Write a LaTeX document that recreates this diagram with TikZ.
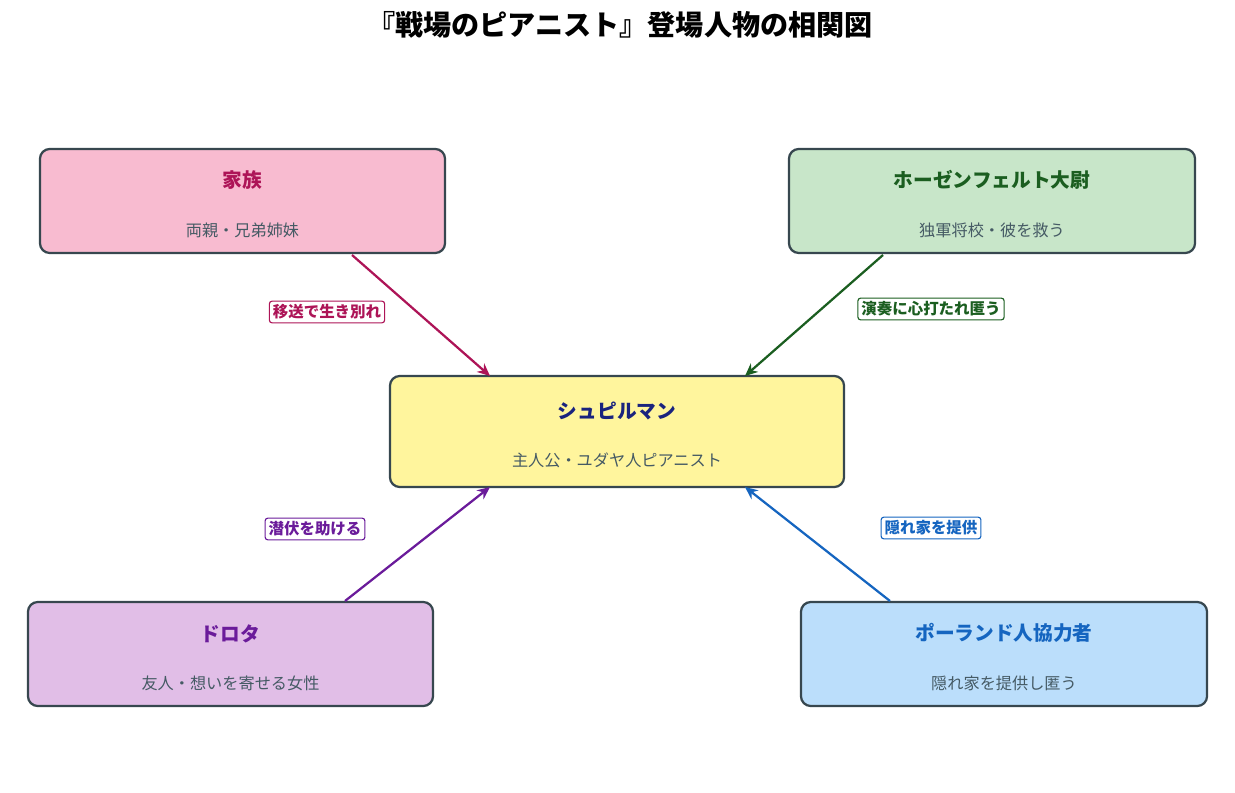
\documentclass[tikz,border=0pt]{standalone}
\usepackage{fontspec}
\setmainfont{Noto Sans CJK JP}
\usetikzlibrary{arrows.meta}
\definecolor{bd}{HTML}{37474F}
\definecolor{sub}{HTML}{455A64}
\begin{document}
\begin{tikzpicture}[x=0.025cm,y=-0.025cm,
 box/.style={draw=bd,line width=1.6pt,rounded corners=7pt,inner sep=0pt},
 ttl/.style={font=\fontsize{14}{16}\selectfont\bfseries},
 sb/.style={font=\fontsize{11.5}{13}\selectfont,text=sub},
 lab/.style={draw=#1,text=#1,fill=white,line width=0.8pt,rounded corners=2pt,inner sep=2.5pt,font=\fontsize{11}{12}\selectfont\bfseries},
 arr/.style={draw=#1,line width=1.6pt,-{Stealth[length=9pt,width=8pt]}}]
\useasboundingbox (0,0) rectangle (1235,793);
\node[font=\fontsize{20}{22}\selectfont\bfseries] (t) at (620,25) {『戦場のピアニスト』登場人物の相関図};
% boxes
\node[box,fill=pink!60!magenta!30,fill={rgb,255:red,248;green,187;blue,208},minimum width=405\pgflinewidth*0+10.125cm,minimum height=2.6cm] (fam) at (242.5,201) {};
\node[box,fill={rgb,255:red,200;green,230;blue,201},minimum width=10.15cm,minimum height=2.6cm] (hos) at (992,201) {};
\node[box,fill={rgb,255:red,255;green,245;blue,157},minimum width=11.35cm,minimum height=2.775cm] (szp) at (617,431.5) {};
\node[box,fill={rgb,255:red,225;green,190;blue,231},minimum width=10.125cm,minimum height=2.6cm] (dor) at (230.5,654) {};
\node[box,fill={rgb,255:red,187;green,222;blue,251},minimum width=10.15cm,minimum height=2.6cm] (pol) at (1004,654) {};
% texts
\node[ttl,text={rgb,255:red,173;green,20;blue,87}] (famt) at (242.5,180) {家族};
\node[sb] (fams) at (242.5,230) {両親・兄弟姉妹};
\node[ttl,text={rgb,255:red,27;green,94;blue,32}] (host) at (992,180) {ホーゼンフェルト大尉};
\node[sb] (hoss) at (992,230) {独軍将校・彼を救う};
\node[ttl,text={rgb,255:red,26;green,35;blue,126}] (szpt) at (617,411) {シュピルマン};
\node[sb] (szps) at (617,460) {主人公・ユダヤ人ピアニスト};
\node[ttl,text={rgb,255:red,106;green,27;blue,154}] (dort) at (230.5,634) {ドロタ};
\node[sb] (dors) at (230.5,683) {友人・想いを寄せる女性};
\node[ttl,text={rgb,255:red,21;green,101;blue,192}] (polt) at (1004,633) {ポーランド人協力者};
\node[sb] (pols) at (1004,683) {隠れ家を提供し匿う};
% connectors
\definecolor{cf}{HTML}{AD1457}\definecolor{ch}{HTML}{1B5E20}
\definecolor{cd}{HTML}{6A1B9A}\definecolor{cp}{HTML}{1565C0}
\coordinate (a1) at (352,255); \coordinate (b1) at (490,376);
\coordinate (a2) at (883,255); \coordinate (b2) at (745,376);
\coordinate (a3) at (345,601); \coordinate (b3) at (490,487);
\coordinate (a4) at (890,601); \coordinate (b4) at (745,487);
\draw[arr=cf] (a1) -- (b1);
\draw[arr=ch] (a2) -- (b2);
\draw[arr=cd] (a3) -- (b3);
\draw[arr=cp] (a4) -- (b4);
\node[lab=cf] (l1) at (327,312) {移送で生き別れ};
\node[lab=ch] (l2) at (931,309) {演奏に心打たれ匿う};
\node[lab=cd] (l3) at (315,529) {潜伏を助ける};
\node[lab=cp] (l4) at (931,528) {隠れ家を提供};
\end{tikzpicture}
\end{document}
